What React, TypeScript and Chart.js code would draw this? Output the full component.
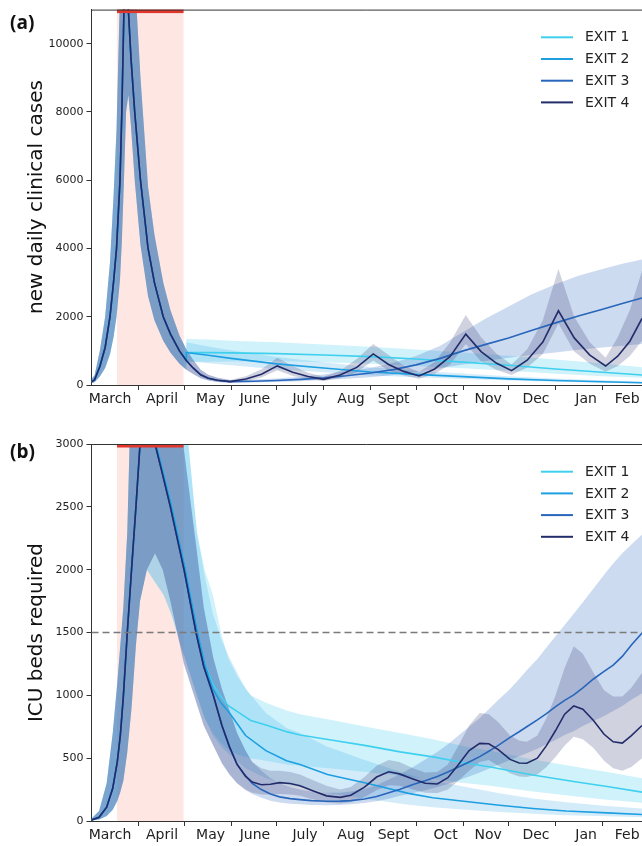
import React, { useEffect, useRef } from "react";
import { Chart, registerables } from "chart.js";
Chart.register(...registerables);

// ---------- shared axis data (x = days since 1 March) ----------
const monthLabels = ["March", "April", "May", "June", "July", "Aug", "Sept", "Oct", "Nov", "Dec", "Jan", "Feb"];
const monthLabelDays = [12.2, 46.5, 78.5, 107.8, 140.8, 171.1, 199.2, 233.5, 261.5, 293.1, 326.1, 353.2];
const monthBoundaryDays = [31, 61, 92, 122, 153, 184, 214, 245, 275, 306, 337];
const seriesNames = ["EXIT 1", "EXIT 2", "EXIT 3", "EXIT 4"];
const seriesColors = ["#3fd0ef", "#1e9fe2", "#2866bb", "#232c6a"];
const bandColors = ["rgba(70,205,240,0.26)", "rgba(40,160,230,0.2)", "rgba(40,100,190,0.23)", "rgba(45,50,110,0.22)"];
const lockdownStart = 16.8;
const lockdownEnd = 60.7;
const dayMax = 363;

// ---------- panel (a): new daily clinical cases ----------
const aYTicks = [0, 2000, 4000, 6000, 8000, 10000];
const aYMax = 11000;
const aCommonDays = [0, 2, 5.5, 9, 12.2, 14.5, 16.5, 18.8, 20, 21.4, 22.8, 24.3, 26, 28.5, 32.3, 37.3, 41.5, 47.3, 52, 58];
const aCommon = [100, 150, 540, 1100, 2000, 3000, 4000, 6000, 8000, 11000, 12400, 11000, 9600, 8000, 6000, 4000, 3000, 2000, 1500, 1000];
const aCommonLo = [50, 80, 250, 500, 900, 1400, 2000, 3100, 4200, 6000, 8000, 8500, 7600, 6000, 4100, 2600, 1900, 1300, 950, 620];
const aCommonHi = [180, 280, 1000, 2000, 3600, 5500, 7500, 11500, 14000, 16000, 16500, 15500, 14000, 12000, 9000, 5800, 4400, 3000, 2200, 1450];

const aExit1Days = [62.5, 62.5, 77, 92, 122, 153, 184, 214, 245, 275, 306, 337, 363];
const aExit1 = [720, 950, 950, 940, 920, 880, 830, 760, 670, 580, 470, 375, 293];
const aExit1Lo = [450, 680, 680, 690, 700, 670, 620, 560, 490, 420, 330, 260, 210];
const aExit1Hi = [1050, 1350, 1330, 1300, 1250, 1190, 1120, 1040, 950, 860, 750, 630, 520];

const aExit2Days = [62.5, 62.5, 77, 92, 122, 153, 184, 214, 245, 275, 306, 337, 363];
const aExit2 = [720, 950, 870, 780, 620, 500, 380, 310, 245, 180, 130, 95, 68];
const aExit2Lo = [450, 700, 640, 580, 460, 370, 280, 225, 175, 130, 92, 66, 46];
const aExit2Hi = [1050, 1250, 1130, 1020, 820, 670, 520, 420, 340, 260, 190, 140, 100];

const aExit3Days = [62.5, 67, 72, 77, 83, 91.4, 107, 122, 138, 153, 168, 184, 199, 214, 230, 245, 260, 275, 290, 306, 321, 337, 350, 363];
const aExit3 = [720, 500, 300, 200, 140, 100, 110, 130, 165, 210, 270, 350, 450, 590, 780, 1000, 1190, 1380, 1600, 1820, 2020, 2220, 2390, 2550];
const aExit3Lo = [450, 320, 195, 130, 90, 65, 70, 85, 110, 145, 180, 230, 290, 380, 490, 600, 700, 800, 880, 950, 1030, 1100, 1150, 1200];
const aExit3Hi = [1050, 740, 450, 300, 210, 150, 160, 190, 240, 310, 400, 500, 650, 850, 1150, 1550, 1950, 2300, 2650, 2950, 3200, 3400, 3550, 3680];

const aExit4Days = [62.5, 67, 72, 77, 83, 91.4, 101.8, 112.1, 122.5, 132.7, 142.8, 153, 163.9, 174.9, 185.8, 195.9, 205.9, 216, 226.3, 236.5, 246.8, 256.9, 266.9, 277, 287.3, 297.6, 307.9, 318.3, 328.6, 339, 347, 355, 363];
const aExit4 = [720, 500, 300, 200, 140, 100, 178, 316, 560, 373, 248, 165, 292, 515, 910, 602, 399, 264, 470, 837, 1490, 978, 642, 420, 727, 1257, 2175, 1380, 876, 556, 845, 1283, 1950];
const aExit4Lo = [450, 320, 195, 130, 90, 65, 120, 220, 430, 265, 175, 115, 205, 370, 720, 420, 280, 185, 330, 600, 1200, 690, 450, 290, 510, 910, 1800, 980, 620, 390, 560, 850, 1300];
const aExit4Hi = [1050, 740, 450, 300, 210, 150, 260, 460, 800, 560, 360, 240, 420, 760, 1200, 880, 570, 380, 680, 1250, 2050, 1400, 920, 600, 1050, 1900, 3400, 2000, 1250, 800, 1400, 2200, 3350];

// ---------- panel (b): ICU beds required ----------
const bYTicks = [0, 500, 1000, 1500, 2000, 2500, 3000];
const bYMax = 3000;
const icuCapacity = 1500;
const bCommonDays = [0, 5, 10, 14, 17, 19, 21, 23.6, 26.4, 29.3, 32, 36.5];
const bCommon = [8, 30, 110, 260, 470, 680, 990, 1500, 2000, 2500, 3000, 3180];
const bCommonLo = [3, 12, 40, 90, 160, 230, 320, 550, 900, 1400, 1750, 2000];
const bCommonHi = [20, 80, 300, 700, 1100, 1400, 1700, 2300, 3600, 4000, 4200, 4300];

const bExit1Days = [42.5, 47.5, 52.5, 61.5, 69.5, 74.6, 80, 85.4, 90, 96.2, 105, 115, 128.6, 137.5, 160, 181, 203.5, 225, 247.5, 263, 291, 320, 340, 363];
const bExit1 = [3000, 2760, 2520, 2020, 1520, 1250, 1090, 989, 920, 870, 800, 764, 711, 685, 640, 600, 550, 510, 459, 430, 366, 310, 275, 230];
const bExit1Lo = [1890, 1800, 1650, 1300, 1000, 820, 700, 620, 570, 530, 500, 480, 450, 440, 415, 390, 360, 330, 300, 280, 235, 195, 170, 145];
const bExit1Hi = [4250, 4100, 3900, 3300, 2300, 2000, 1800, 1500, 1300, 1150, 1000, 940, 880, 850, 800, 750, 700, 650, 590, 560, 490, 430, 390, 340];

const bExit2Days = [42.5, 47.5, 52.5, 61.5, 69.5, 74.6, 80, 85.4, 91, 101.6, 115, 128.6, 137.5, 155.6, 181.5, 209, 225, 247, 269, 291, 313, 340, 363];
const bExit2 = [3000, 2760, 2520, 2020, 1520, 1250, 1050, 940, 860, 680, 560, 480, 450, 370, 300, 220, 185, 155, 125, 100, 80, 65, 52];
const bExit2Lo = [1890, 1800, 1650, 1300, 1000, 820, 680, 590, 530, 420, 340, 290, 270, 220, 175, 130, 110, 90, 72, 58, 46, 37, 30];
const bExit2Hi = [4250, 4100, 3900, 3300, 2300, 1950, 1650, 1450, 1300, 1050, 860, 740, 700, 590, 480, 370, 320, 270, 220, 180, 150, 120, 100];

const bLateDays = [41.9, 47, 52, 61, 68.9, 74, 80.3, 86, 91, 96, 101.6, 106, 112, 118, 124, 131, 137.5, 145, 155, 164, 171, 180, 188, 196, 203, 212, 220, 228, 235, 242, 249, 256, 262, 268, 276, 282, 287, 294, 300, 306, 312, 318, 324, 331, 338, 344, 350, 356, 363];
const bExit3 = [3000, 2750, 2500, 2000, 1500, 1230, 1000, 760, 590, 450, 360, 300, 250, 215, 192, 178, 170, 162, 157, 158, 162, 175, 195, 225, 250, 290, 320, 355, 390, 430, 470, 512, 555, 600, 665, 710, 750, 805, 855, 910, 960, 1003, 1060, 1130, 1190, 1240, 1310, 1400, 1495];
const bExit3Lo = [2130, 2000, 1750, 1250, 950, 760, 600, 460, 370, 300, 245, 215, 185, 162, 148, 138, 133, 128, 126, 128, 133, 143, 158, 178, 198, 222, 245, 270, 295, 325, 355, 385, 415, 445, 485, 515, 540, 575, 610, 645, 685, 715, 755, 795, 835, 875, 915, 965, 1015];
const bExit3Hi = [4250, 4100, 3800, 2950, 2200, 1700, 1300, 1050, 880, 700, 560, 470, 400, 340, 300, 270, 250, 235, 225, 225, 235, 255, 285, 330, 370, 430, 490, 550, 610, 680, 750, 820, 890, 960, 1050, 1130, 1200, 1290, 1380, 1470, 1560, 1650, 1740, 1850, 1960, 2050, 2130, 2200, 2280];
const bExit4 = [3000, 2750, 2500, 2000, 1500, 1230, 1000, 760, 590, 450, 355, 310, 288, 292, 305, 298, 280, 245, 200, 188, 205, 270, 350, 392, 375, 335, 300, 295, 345, 450, 560, 618, 615, 570, 490, 462, 460, 500, 600, 720, 850, 915, 890, 800, 690, 630, 620, 680, 760];
const bExit4Lo = [2130, 2000, 1750, 1250, 950, 760, 600, 460, 370, 300, 250, 225, 210, 210, 215, 210, 200, 175, 148, 140, 150, 190, 245, 285, 280, 250, 225, 222, 250, 320, 400, 470, 485, 440, 380, 355, 350, 370, 430, 510, 600, 670, 650, 580, 480, 420, 400, 430, 500];
const bExit4Hi = [4250, 4100, 3800, 2950, 2200, 1700, 1300, 1050, 880, 700, 560, 470, 420, 400, 400, 390, 370, 330, 280, 250, 270, 350, 440, 485, 470, 420, 385, 390, 450, 600, 760, 860, 850, 790, 680, 640, 630, 680, 820, 1000, 1220, 1390, 1330, 1180, 1040, 990, 990, 1060, 1180];

type Series = { days: number[]; v: number[]; lo: number[]; hi: number[] };
const join = (a: number[], b: number[]) => a.concat(b);

const panelASeries: Series[] = [
  { days: join(aCommonDays, aExit1Days), v: join(aCommon, aExit1), lo: join(aCommonLo, aExit1Lo), hi: join(aCommonHi, aExit1Hi) },
  { days: join(aCommonDays, aExit2Days), v: join(aCommon, aExit2), lo: join(aCommonLo, aExit2Lo), hi: join(aCommonHi, aExit2Hi) },
  { days: join(aCommonDays, aExit3Days), v: join(aCommon, aExit3), lo: join(aCommonLo, aExit3Lo), hi: join(aCommonHi, aExit3Hi) },
  { days: join(aCommonDays, aExit4Days), v: join(aCommon, aExit4), lo: join(aCommonLo, aExit4Lo), hi: join(aCommonHi, aExit4Hi) },
];
const panelBSeries: Series[] = [
  { days: join(bCommonDays, bExit1Days), v: join(bCommon, bExit1), lo: join(bCommonLo, bExit1Lo), hi: join(bCommonHi, bExit1Hi) },
  { days: join(bCommonDays, bExit2Days), v: join(bCommon, bExit2), lo: join(bCommonLo, bExit2Lo), hi: join(bCommonHi, bExit2Hi) },
  { days: join(bCommonDays, bLateDays), v: join(bCommon, bExit3), lo: join(bCommonLo, bExit3Lo), hi: join(bCommonHi, bExit3Hi) },
  { days: join(bCommonDays, bLateDays), v: join(bCommon, bExit4), lo: join(bCommonLo, bExit4Lo), hi: join(bCommonHi, bExit4Hi) },
];

const pts = (d: number[], v: number[]) => d.map((x, i) => ({ x, y: v[i] }));

function buildDatasets(series: Series[]) {
  const ds: any[] = [];
  series.forEach((s, i) => {
    const loIndex = ds.length;
    ds.push({
      data: pts(s.days, s.lo), borderWidth: 0, borderColor: "rgba(0,0,0,0)", pointRadius: 0,
      fill: false, order: 13 - i, tension: 0, clip: 0,
    });
    ds.push({
      data: pts(s.days, s.hi), borderWidth: 0, borderColor: "rgba(0,0,0,0)", pointRadius: 0,
      fill: { target: loIndex }, backgroundColor: bandColors[i], order: 13 - i, tension: 0, clip: 0,
    });
  });
  series.forEach((s, i) => {
    ds.push({
      label: seriesNames[i], data: pts(s.days, s.v), borderColor: seriesColors[i], borderWidth: 1.6,
      pointRadius: 0, fill: false, order: 3 - i, tension: 0, clip: 0,
    });
  });
  return ds;
}

const FONT = "'DejaVu Sans', sans-serif";
const labelAt = new Map<number, string>(monthLabelDays.map((d, i) => [d, monthLabels[i]]));

type PanelCfg = {
  series: Series[]; yMax: number; yTicks: number[]; padTop: number; xAxisH: number;
  title: string; letter: string; titleY: number; letterY: number; capacity?: number;
};

function decor(p: PanelCfg) {
  return {
    id: "decor",
    beforeDatasetsDraw(chart: any) {
      const { ctx, chartArea: ca, scales } = chart;
      const x0 = scales.x.getPixelForValue(lockdownStart);
      const x1 = scales.x.getPixelForValue(lockdownEnd);
      ctx.save();
      ctx.fillStyle = "rgba(250,128,114,0.2)";
      ctx.fillRect(x0, ca.top, x1 - x0, ca.bottom - ca.top);
      ctx.restore();
    },
    afterDatasetsDraw(chart: any) {
      const { ctx, chartArea: ca, scales } = chart;
      ctx.save();
      if (p.capacity != null) {
        const y = scales.y.getPixelForValue(p.capacity);
        ctx.strokeStyle = "#7a7a7a";
        ctx.lineWidth = 1.4;
        ctx.setLineDash([7, 4]);
        ctx.beginPath();
        ctx.moveTo(ca.left, y);
        ctx.lineTo(ca.right, y);
        ctx.stroke();
        ctx.setLineDash([]);
      }
      const x0 = scales.x.getPixelForValue(lockdownStart);
      const x1 = scales.x.getPixelForValue(lockdownEnd);
      ctx.fillStyle = "#e2352b";
      ctx.fillRect(x0, ca.top, x1 - x0, 3.5);
      ctx.strokeStyle = "#333";
      ctx.lineWidth = 1;
      ctx.beginPath();
      ctx.moveTo(ca.left, ca.top + 0.5);
      ctx.lineTo(ca.right, ca.top + 0.5);
      ctx.stroke();
      ctx.restore();
    },
    afterDraw(chart: any) {
      const { ctx, chartArea: ca } = chart;
      ctx.save();
      ctx.font = `14px ${FONT}`;
      ctx.textBaseline = "middle";
      ctx.textAlign = "left";
      seriesNames.forEach((name, i) => {
        const y = ca.top + 27.7 + i * 21.7;
        ctx.strokeStyle = seriesColors[i];
        ctx.lineWidth = 2;
        ctx.beginPath();
        ctx.moveTo(541, y);
        ctx.lineTo(573, y);
        ctx.stroke();
        ctx.fillStyle = "#222";
        ctx.fillText(name, 585, y + 0.5);
      });
      ctx.save();
      ctx.translate(41.5, p.titleY);
      ctx.rotate(-Math.PI / 2);
      ctx.font = `20px ${FONT}`;
      ctx.textAlign = "center";
      ctx.textBaseline = "alphabetic";
      ctx.fillStyle = "#111";
      ctx.fillText(p.title, 0, 0);
      ctx.restore();
      ctx.font = "bold 19px 'Open Sans', sans-serif";
      ctx.textAlign = "left";
      ctx.textBaseline = "middle";
      ctx.fillStyle = "#111";
      ctx.fillText(p.letter, 10, p.letterY);
      ctx.restore();
    },
  };
}

function makeChart(canvas: HTMLCanvasElement, p: PanelCfg) {
  return new Chart(canvas, {
    type: "line",
    data: { datasets: buildDatasets(p.series) },
    options: {
      animation: false,
      responsive: false,
      devicePixelRatio: 1,
      events: [],
      layout: { padding: { top: p.padTop, right: 0, left: 0, bottom: 0 } },
      plugins: { legend: { display: false }, tooltip: { enabled: false } },
      elements: { point: { radius: 0 }, line: { tension: 0 } },
      scales: {
        x: {
          type: "linear",
          min: 0,
          max: dayMax,
          afterBuildTicks: (s: any) => {
            const vals = monthBoundaryDays.concat(monthLabelDays).sort((a, b) => a - b);
            s.ticks = vals.map((v) => ({ value: v }));
          },
          afterFit: (s: any) => { s.height = p.xAxisH; },
          ticks: {
            autoSkip: false, maxRotation: 0, minRotation: 0, padding: 1,
            color: "#222", font: { family: FONT, size: 14 },
            callback: (v: any) => labelAt.get(v) ?? "",
          },
          grid: {
            drawOnChartArea: false, drawTicks: true, tickLength: 5, tickWidth: 1,
            tickColor: (c: any) => (c.tick && labelAt.has(c.tick.value) ? "rgba(0,0,0,0)" : "#333"),
          },
          border: { color: "#333", width: 1 },
        },
        y: {
          min: 0,
          max: p.yMax,
          afterBuildTicks: (s: any) => { s.ticks = p.yTicks.map((v) => ({ value: v })); },
          afterFit: (s: any) => { s.width = 91.5; },
          ticks: { padding: 3, color: "#222", font: { family: FONT, size: 11 }, callback: (v: any) => String(v) },
          grid: { drawOnChartArea: false, drawTicks: true, tickLength: 5, tickColor: "#333" },
          border: { color: "#333", width: 1 },
        },
      },
    },
    plugins: [decor(p) as any],
  } as any);
}

export default function App() {
  const refA = useRef<HTMLCanvasElement>(null);
  const refB = useRef<HTMLCanvasElement>(null);
  useEffect(() => {
    const a = makeChart(refA.current!, {
      series: panelASeries, yMax: aYMax, yTicks: aYTicks, padTop: 8, xAxisH: 38,
      title: "new daily clinical cases", letter: "(a)", titleY: 197, letterY: 24,
    });
    const b = makeChart(refB.current!, {
      series: panelBSeries, yMax: bYMax, yTicks: bYTicks, padTop: 21, xAxisH: 25,
      title: "ICU beds required", letter: "(b)", titleY: 209.5, letterY: 30, capacity: icuCapacity,
    });
    return () => { a.destroy(); b.destroy(); };
  }, []);
  return (
    <div style={{ position: "absolute", left: 0, top: 0, width: 642, height: 846, background: "#fff", overflow: "hidden" }}>
      <canvas ref={refA} width={642} height={423} style={{ position: "absolute", left: 0, top: 0, display: "block" }} />
      <canvas ref={refB} width={642} height={423} style={{ position: "absolute", left: 0, top: 423, display: "block" }} />
    </div>
  );
}
